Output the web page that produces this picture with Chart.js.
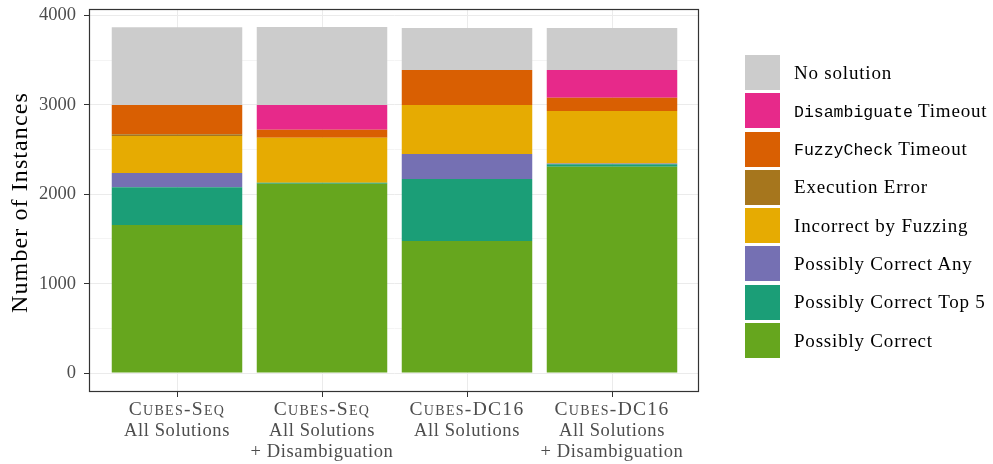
<!DOCTYPE html>
<html>
<head>
<meta charset="utf-8">
<script src="https://cdn.jsdelivr.net/npm/chart.js@4.4.1/dist/chart.umd.min.js"></script>
<style>
  html, body { margin: 0; padding: 0; background: #fff; }
  #wrap { position: relative; width: 993px; height: 464px; }
  #legend { position: absolute; left: 745px; top: 55px; font-family: 'Liberation Serif', serif; font-size: 19px; letter-spacing: 0.8px; color: #000; }
  .item { display: flex; align-items: center; height: 35px; margin-bottom: 3.3px; white-space: nowrap; }
  .sw { width: 35px; height: 35px; margin-right: 14px; flex: none; }
  .mono { font-family: 'Liberation Mono', monospace; font-size: 16.5px; letter-spacing: 0; }
</style>
</head>
<body>
<div id="wrap">
  <canvas id="chart" width="993" height="464"></canvas>
  <div id="legend"></div>
</div>
<script>
// ---- data ----
const categoryLines = [
  ['Cubes-Seq', 'All Solutions'],
  ['Cubes-Seq', 'All Solutions', '+ Disambiguation'],
  ['Cubes-DC16', 'All Solutions'],
  ['Cubes-DC16', 'All Solutions', '+ Disambiguation']
];
const xPositions = [1, 2, 3, 4];
const yTicks = [0, 500, 1000, 1500, 2000, 2500, 3000, 3500, 4000];

// series, stacked bottom -> top
const seriesNames = [
  'Possibly Correct', 'Possibly Correct Top 5', 'Possibly Correct Any', 'Incorrect by Fuzzing',
  'Execution Error', 'FuzzyCheck Timeout', 'Disambiguate Timeout', 'No solution'
];
const seriesColors = ['#66a61e', '#1b9e77', '#7570b3', '#e6ab02', '#a6761d', '#d95f02', '#e7298a', '#cccccc'];
const possiblyCorrect     = [1655, 2118, 1477, 2308];
const possiblyCorrectTop5 = [425, 11, 694, 28];
const possiblyCorrectAny  = [157, 0, 279, 8];
const incorrectByFuzzing  = [414, 504, 549, 587];
const executionError      = [22, 0, 0, 0];
const fuzzyCheckTimeout   = [325, 89, 391, 149];
const disambiguateTimeout = [0, 277, 0, 310];
const noSolution          = [872, 872, 470, 470];
const monoWords = ['Disambiguate', 'FuzzyCheck'];

const seriesValues = [possiblyCorrect, possiblyCorrectTop5, possiblyCorrectAny, incorrectByFuzzing,
  executionError, fuzzyCheckTimeout, disambiguateTimeout, noSolution];

const SERIF = '"Liberation Serif"';

// panel border + x labels (small caps first line) + y title
const panelAndLabels = {
  id: 'panelAndLabels',
  afterDatasetsDraw(chart) {
    const { ctx, chartArea: a } = chart;
    ctx.save();
    ctx.strokeStyle = '#333333';
    ctx.lineWidth = 1.2;
    ctx.strokeRect(a.left - 0.5, a.top - 0.5, a.right - a.left, a.bottom - a.top + 1);
    ctx.restore();
  },
  afterDraw(chart) {
    const { ctx, chartArea: a } = chart;
    const xs = chart.scales.x;
    ctx.save();
    ctx.fillStyle = '#4d4d4d';
    ctx.textAlign = 'center';
    ctx.textBaseline = 'alphabetic';
    categoryLines.forEach((lines, i) => {
      const px = xs.getPixelForValue(xPositions[i]);
      lines.forEach((t, j) => {
        // first line is set in small caps, like the LaTeX original
        ctx.font = j === 0 ? 'small-caps 19.5px ' + SERIF : '18.5px ' + SERIF;
        ctx.letterSpacing = j === 0 ? '1.3px' : '0.6px';
        ctx.fillText(t, px, a.bottom + 24 + j * 21);
      });
    });
    ctx.translate(27, (a.top + a.bottom) / 2 + 2);
    ctx.rotate(-Math.PI / 2);
    ctx.fillStyle = '#000';
    ctx.letterSpacing = '1.1px';
    ctx.font = '24px ' + SERIF;
    ctx.fillText('Number of Instances', 0, 0);
    ctx.restore();
  }
};

new Chart(document.getElementById('chart'), {
  type: 'bar',
  data: {
    datasets: seriesNames.map((name, k) => ({
      label: name,
      data: seriesValues[k].map((v, i) => ({ x: xPositions[i], y: v })),
      backgroundColor: seriesColors[k],
      borderWidth: 0,
      barPercentage: 0.9,
      categoryPercentage: 1
    }))
  },
  options: {
    responsive: false,
    animation: false,
    layout: { padding: { top: 10, right: 294, left: 0, bottom: 0 } },
    plugins: { legend: { display: false }, tooltip: { enabled: false } },
    scales: {
      x: {
        type: 'linear', stacked: true, min: 0.4, max: 4.6, offset: false,
        afterBuildTicks: s => { s.ticks = xPositions.map(v => ({ value: v })); },
        afterFit: s => { s.height = 73; s.paddingLeft = 0; s.paddingRight = 0; },
        ticks: { display: false },
        grid: { offset: false, color: '#ebebeb', tickColor: '#333333', tickLength: 6 },
        border: { display: false }
      },
      y: {
        stacked: true, min: -201, max: 4062,
        afterBuildTicks: s => { s.ticks = yTicks.map(v => ({ value: v })); },
        afterFit: s => { s.width = 90; s.paddingTop = 0; s.paddingBottom = 0; },
        ticks: {
          autoSkip: false,
          callback: v => (v % 1000 === 0 ? String(v) : ''),
          color: '#4d4d4d', padding: 8,
          font: { family: SERIF, size: 18.5 }
        },
        grid: {
          color: c => (c.tick && c.tick.value % 1000 === 0 ? '#ebebeb' : '#f4f4f4'),
          tickColor: c => (c.tick && c.tick.value % 1000 === 0 ? '#333333' : 'rgba(0,0,0,0)'),
          tickLength: 6
        },
        border: { display: false }
      }
    }
  },
  plugins: [panelAndLabels]
});

// legend: top -> bottom (reverse stacking order)
const legendBox = document.getElementById('legend');
seriesNames.slice().reverse().forEach((name, r) => {
  const k = seriesNames.length - 1 - r;
  const item = document.createElement('div');
  item.className = 'item';
  const sw = document.createElement('div');
  sw.className = 'sw';
  sw.style.background = seriesColors[k];
  const label = document.createElement('span');
  const first = name.split(' ')[0];
  if (monoWords.includes(first)) {
    const m = document.createElement('span');
    m.className = 'mono';
    m.textContent = first;
    label.appendChild(m);
    label.appendChild(document.createTextNode(name.slice(first.length)));
  } else {
    label.textContent = name;
  }
  item.appendChild(sw);
  item.appendChild(label);
  legendBox.appendChild(item);
});
</script>
</body>
</html>
